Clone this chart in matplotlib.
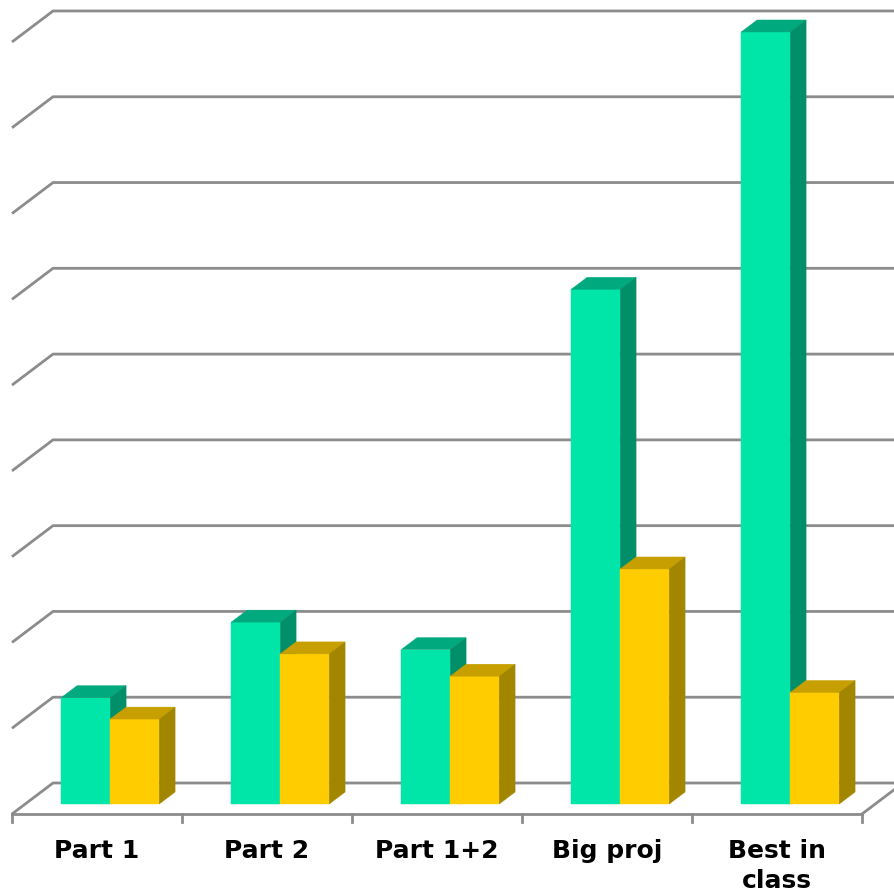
import matplotlib
matplotlib.use("Agg")
import matplotlib.pyplot as plt
from matplotlib.patches import Polygon

# data (one unit = one gridline step)
categories = ["Part 1", "Part 2", "Part 1+2", "Big proj", "Best in\nclass"]
series_a = [1.24, 2.12, 1.80, 6.00, 9.00]
series_b = [0.99, 1.75, 1.49, 2.74, 1.30]
n_grid = 10

# colours: front, top, side
green = ["#00E5A8", "#00AA7E", "#008F68"]
yellow = ["#FFCC00", "#C7A000", "#A38600"]
grid_col = "#8C8C8C"

fig = plt.figure(figsize=(8.94, 8.94), dpi=100)
ax = fig.add_axes([0, 0, 1, 1])

# pixel scale of the layout
px_x = 170.0   # pixels per category
px_y = 85.78   # pixels per value unit
ax.set_xlim(-12 / px_x, (894 - 12) / px_x)
ax.set_ylim(-80 / px_y, (894 - 80) / px_y)
ax.axis("off")

# oblique depth of the floor, and where the bars sit inside it
DX = 41 / px_x
DY = 31 / px_y
f0 = 10 / 31      # front of bars
fb = 12 / 31      # depth of bars
w = 49 / px_x     # bar width
xmax = ax.get_xlim()[1]
ncat = len(categories)

# back wall gridlines + left wall diagonals
for k in range(n_grid):
    ax.plot([0, DX, xmax], [k, k + DY, k + DY], color=grid_col, lw=2,
            solid_capstyle="butt", zorder=1)

# front floor edge, right floor edge and ticks
ax.plot([0, ncat], [0, 0], color=grid_col, lw=2, zorder=1)
ax.plot([ncat, ncat + DX], [0, DY], color=grid_col, lw=2, zorder=1)
for i in range(ncat + 1):
    ax.plot([i, i], [0, -8 / px_y], color=grid_col, lw=2, zorder=1)


def bar3d(x0, val, cols):
    base = f0 * DY
    top = base + val
    bx = fb * DX
    by = fb * DY
    ax.bar(x0, val, bottom=base, width=w, align="edge", color=cols[0],
           edgecolor=cols[0], lw=0.3, zorder=3)
    ax.add_patch(Polygon([(x0, top), (x0 + w, top), (x0 + w + bx, top + by),
                          (x0 + bx, top + by)], closed=True, fc=cols[1],
                         ec=cols[1], lw=0.3, zorder=3))
    ax.add_patch(Polygon([(x0 + w, base), (x0 + w, top), (x0 + w + bx, top + by),
                          (x0 + w + bx, base + by)], closed=True, fc=cols[2],
                         ec=cols[2], lw=0.3, zorder=3))


for i in range(ncat):
    left = i + 0.5 + f0 * DX - w
    bar3d(left, series_a[i], green)
    bar3d(left + w, series_b[i], yellow)

for i, lab in enumerate(categories):
    ax.text(i + 0.5, -(839 - 814) / px_y, lab, ha="center", va="top",
            fontsize=18, fontweight="bold", linespacing=1.3, color="black")

fig.savefig("out.png", dpi=100)
